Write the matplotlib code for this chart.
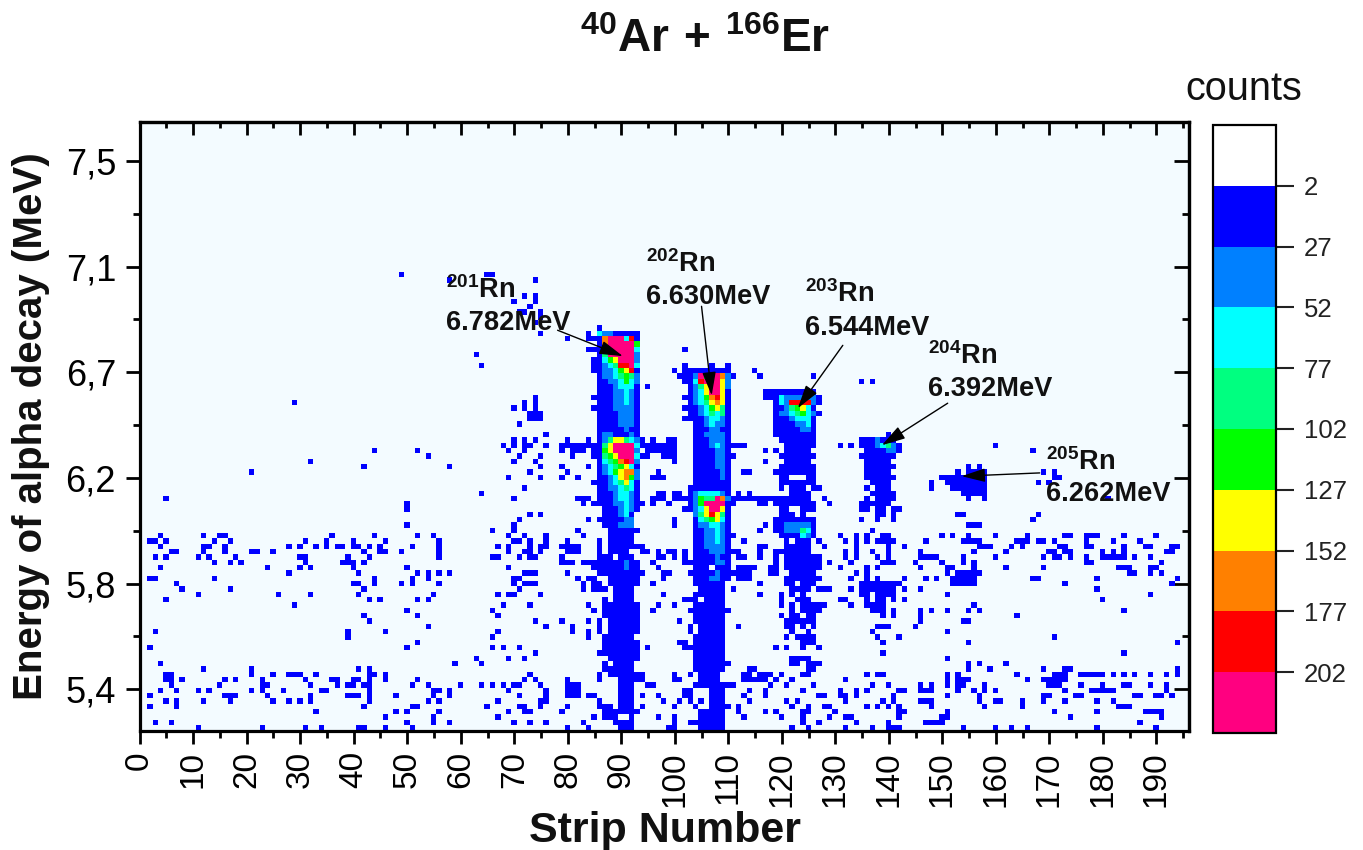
import numpy as np
import matplotlib
matplotlib.use('Agg')
import matplotlib.pyplot as plt
from matplotlib.colors import ListedColormap, BoundaryNorm
from matplotlib.cm import ScalarMappable
from matplotlib.ticker import FixedLocator, FixedFormatter, MultipleLocator

plt.rcParams['font.family'] = ['Liberation Sans', 'DejaVu Sans']
plt.rcParams['mathtext.fontset'] = 'custom'
plt.rcParams['mathtext.bf'] = 'Liberation Sans:bold'
plt.rcParams['mathtext.rm'] = 'Liberation Sans'

W, H = 1363, 850

# ---- data ----------------------------------------------------------------
level_edges = [2, 27, 52, 77, 102, 127, 152, 177, 202]
level_colors = ['#ffffff', '#0000ff', '#0080ff', '#00ffff', '#00ff80',
                '#00ff00', '#ffff00', '#ff8000', '#ff0000', '#ff0080']
band_counts = [0, 14, 40, 65, 90, 115, 140, 165, 190, 215]

strip_count = 197
energy_first = 5.237
energy_bin = 0.02118

# isolated low-count cells: (energy bin, [strips])
left_scatter = [
 (38,[49]),(36,[3,11,14,15,35,43,51,54]),(35,[1,2,4,13,16,30,34,39,45,55]),
 (34,[3,11,12,15,27,29,32,34,36,37,39,40,42,44,50,55]),(33,[5,6,11,15,20,21,24,41,44,45,48,55]),
 (32,[2,4,10,12,17,29,30,38,42,55]),(31,[13,16,18,30,37,38,39,41]),(30,[3,23,29,31,39,49]),
 (29,[27,40,51,53,55,57]),(28,[1,2,13,43,50,53]),(27,[6,39,40,43,48,50,55]),(26,[7,16,41]),
 (25,[10,25,31,40,54]),(24,[4,42,44,51,53]),(23,[28]),(22,[49]),(21,[41,51]),(20,[42]),
 (19,[53]),(18,[2,38,45]),(17,[38]),(16,[51]),(15,[1,49]),(13,[62]),(12,[3,58,63]),
 (11,[11,20,40,42]),(10,[4,5,20,24,27,28,29,32,42,43,45]),
 (9,[4,5,7,15,17,22,30,35,36,39,40,42,45,51]),(8,[5,14,22,23,31,36,38,39,41,42,50,53,59,63]),
 (7,[3,6,10,12,20,22,26,33,34,42,54,55,57]),(6,[1,15,16,17,23,31,38,39,40,42,47,54,57]),
 (5,[4,6,11,16,24,27,29,31,42,53,55]),(4,[1,6,41,50,51]),(3,[32,47,49,55]),(2,[45,54]),
 (1,[2,5,49,54,57]),(0,[10,22,30,33,40,41,45,50]),(-1,[6,7,24,37]),
]
middle_scatter = [
 (38,[69]),(39,[70]),(37,[65,81]),(36,[68,71,75,82]),(35,[69,70,72,75,79,85]),
 (34,[66,68,72,74,75,78,79,80,81,85]),(33,[68,71,72,74,79,80,81,85]),(32,[65,66,70,72,73,78,85]),
 (31,[78,79,80,82,83,84,85]),(30,[68]),(29,[71,72,73,79]),(28,[69,70,81,83,84]),
 (27,[69,71,72,73,82,84,85]),(26,[70,82,84,85,86]),(25,[66,68,69,74]),(23,[67,72,83]),
 (22,[65,84]),(21,[66]),(20,[73,78,83,85]),(19,[75,80,85]),(18,[66,80,83,85]),(17,[65,83]),
 (15,[65,67,70]),(14,[73,85]),(13,[68,71]),(12,[63]),(10,[72,85]),(9,[71,73,79,85]),
 (8,[63,65,67,69,70,74,79,80,81]),(7,[68,75,79,80,81]),(6,[70,75,79,80,81,83,84]),(5,[66,74,75,85]),
 (4,[64,70,71,74,79,85]),(3,[68,71,72,78]),(2,[66,84]),(1,[69,72,75,82]),(0,[79,83]),(-1,[66,68,70]),
]
between_scatter = [
 (38,[99]),(37,[92]),(34,[92,93]),(33,[93,94,96,98,99,101]),(32,[96,97,99,101]),(31,[95,101,102]),
 (30,[96]),(29,[93,97,98,102]),(28,[97]),(27,[95]),(25,[97]),(23,[92,96,99]),(22,[95,102]),
 (20,[100]),(19,[102]),(18,[102]),(16,[100,101]),(15,[94,101,102]),(10,[92,93,99,102]),
 (9,[93,99,100]),(8,[94,95]),(7,[101]),(6,[93,96,101,102]),(5,[97,100,102]),(4,[93,99]),
 (3,[92]),(2,[96,99]),(1,[99]),(0,[98,99]),
 (38,[116]),(37,[115]),(36,[110]),(35,[112]),(34,[115,116]),(33,[110,111,115,118]),
 (32,[111,112,115,118]),(31,[118]),(30,[111,112,113,114,117,118]),(29,[110,111,112,113]),
 (28,[111,112,113]),(27,[115]),(26,[110,126,127,128]),(25,[115]),(22,[109]),(19,[111]),(12,[109]),
 (11,[113,114]),(10,[112,113,115,116,117,119]),(9,[112,113,114,115,116,118]),(8,[117,120,125]),
 (7,[113,116,123]),(6,[112,116,126,127]),(5,[113,120,122]),(4,[109,111,121,124,128]),
 (3,[111,116,118,123,124,129]),(2,[112,119,123]),(1,[123,126]),(0,[121,124]),(-1,[117,118,120,121,125,128]),
]
right_scatter = [
 (38,[154,155,156]),(37,[136]),(36,[130,133,135,138,139,149,151,154,159,165,172,173,176,177,178,183,189]),
 (35,[126,131,133,135,137,138,139,140,146,153,154,155,156,163,164,165,167,168,170,176,181,186]),
 (34,[127,133,139,142,156,157,158,162,164,171,172,176,177,183,187,188,192,193]),
 (33,[131,133,136,139,145,155,161,169,170,172,173,179,181,183,191,192]),
 (32,[131,133,137,139,145,146,147,148,153,159,168,170,171,173,176,179,180,181,182,183,185,188]),
 (31,[128,132,138,139,140,144,149,153,155,176,177,190]),
 (30,[130,135,137,145,150,151,155,161,168,182,183,184,188,189]),
 (29,[133,135,150,152,153,154,155,156,184,185,188,190]),
 (28,[132,135,137,142,146,148,151,152,153,154,155,166,167,178,193]),
 (27,[134,135,136,137,138,139,140,141,151,152,153,154,155,172,192]),
 (26,[127,132,134,135,136,137,138,139,140,142,145,178]),
 (25,[134,135,137,138,139,140,150,188]),(24,[130,131,135,137,138,140,142,179]),
 (23,[127,132,135,136,137,138,155]),(22,[136,137,138,140,145,147,150,154,156,183]),
 (21,[138,140,145,163]),(20,[145,153,154]),(19,[137,138,139,144]),(18,[136,150]),
 (17,[137,141,170]),(16,[138,154,193]),(14,[138,183]),(13,[150]),(12,[154,156,161]),
 (11,[154,158,168,172,173,193]),
 (10,[135,137,138,150,152,163,170,171,172,175,176,177,178,179,181,183,185,188,191,193]),
 (9,[131,150,152,153,154,165,168,169,170,171,172]),
 (8,[136,139,145,147,150,152,153,157,169,170,171,175,179,183,184,188,191]),
 (7,[130,133,135,141,142,145,146,147,152,155,157,159,172,177,178,179,180,181,191]),
 (6,[126,127,130,131,133,140,150,156,168,169,174,175,185,186,189,190,192]),
 (5,[131,138,140,145,146,147,156,159,160,164,168,172,178,181]),
 (4,[127,135,137,139,141,147,157,164,182,183,184]),(3,[141,142,150,170,178,187,188,189,190]),
 (2,[128,131,132,141,149,150,173,190]),(1,[126,133,139,146,147,148,149,186]),
 (0,[131,136,139,140,141,153,159,162,165,178,189]),(-1,[126,127,141,154,170]),
]
upper_scatter = [
 (85,[48,64,65]),(84,[57,73]),(81,[71,73]),(80,[69,73]),(79,[72]),(78,[70,71,74]),(77,[74]),
 (76,[73]),(74,[74]),(73,[79]),(70,[62]),(68,[63]),(62,[73]),(61,[28,71,73]),(60,[69,71,73]),
 (59,[72,73,74]),(58,[72,73,74]),(57,[70]),(55,[75]),(54,[69,71,73,79]),
 (53,[67,69,71,72,75,78,79,80,81]),(52,[43,51,68,71,78,80,81]),(51,[53,70,74,80]),
 (50,[31,69,73]),(49,[41,57,74,78]),(48,[20,72,79]),(47,[68,74,78,81]),(45,[71]),
 (44,[63]),(43,[4,69,81]),(42,[49]),(41,[49]),(40,[72,74]),(39,[70]),(38,[69]),(37,[65,69]),
 (71,[101]),(67,[99,114]),(64,[94]),(73,[79]),(75,[85]),(74,[83]),(68,[101,106,109]),
 (66,[115,125,100]),(65,[134,136]),(53,[159,130,132]),(52,[166]),(48,[168,170]),(47,[170,171]),
 (46,[167,169,147]),(43,[180]),(40,[167,152]),(39,[166]),
]
# horizontal tails of the peaks at about 6.3 and 6.1 MeV: (bin, first, last)
cross_runs = [
 (53,78,85),(53,93,99),(54,93,93),(54,95,95),(54,98,99),(54,79,79),(54,83,83),
 (52,78,78),(52,80,82),(52,84,85),(52,94,98),(52,99,99),(51,80,80),(51,84,84),(51,93,94),
 (51,97,98),(51,99,99),(50,99,99),(49,78,78),(49,83,83),(48,79,79),(47,78,78),(47,81,81),
 (46,84,84),(53,109,112),(51,110,110),(48,112,113),(48,96,96),(47,95,97),
 (44,96,97),(44,99,100),(44,111,111),(44,113,113),(43,81,83),(43,85,85),(43,95,97),(43,99,101),
 (43,109,115),(42,82,82),(42,84,85),(42,92,93),(42,95,95),(42,98,98),(42,110,110),(41,101,101),
 (39,83,83),(39,85,85),(39,99,99),(37,81,81),(37,115,115),(36,82,82),
]
# blue body of the strip columns: (bin, first, last)
column_90_runs = [
 (75,85,85),(74,83,83),(73,83,84),(71,83,84),(69,84,84),(68,84,84),(67,84,84),(62,84,84),(60,84,84),
 (52,84,85),(37,87,92),(36,87,91),(35,87,91),(34,87,93),(33,87,90),(33,93,94),(32,86,87),(32,89,91),
 (31,86,92),(30,84,92),(29,85,93),(28,84,84),(28,87,92),(27,87,92),(26,88,91),(25,88,91),(24,86,86),
 (24,88,91),(23,86,92),(22,86,92),(21,86,92),(20,85,85),(20,87,92),(19,87,92),(18,87,92),(17,86,91),
 (16,86,92),(15,86,92),(14,86,92),(13,87,92),(12,86,86),(12,88,91),(11,86,91),(10,87,91),(9,89,93),
 (8,89,91),(7,89,91),(6,89,91),(5,89,91),(4,85,87),(4,89,91),(3,86,89),(3,90,91),(2,86,88),(2,91,91),
 (1,88,88),(1,89,91),(0,89,91),
]
column_106_runs = [
 (27,103,108),(26,104,108),(25,103,108),(24,101,103),(24,105,108),(23,103,108),(22,102,109),
 (21,103,108),(20,103,108),(19,102,102),(19,104,108),(18,102,102),(18,104,108),(17,103,108),
 (16,103,108),(15,103,108),(14,103,108),(13,103,108),(12,103,109),(11,103,108),(10,104,107),
 (9,104,107),(8,103,110),(7,102,102),(7,106,108),(6,101,102),(6,106,108),(5,102,102),(5,104,104),
 (5,106,108),(4,103,103),(4,106,108),(3,104,108),(2,104,108),(1,102,108),(0,104,108),(-1,105,107),
]
column_122_runs = [
 (52,116,116),(52,118,118),(52,120,124),(51,119,125),(50,116,116),(50,120,124),(49,119,125),
 (48,118,125),(47,119,120),(47,124,125),(46,119,125),(45,119,119),(45,121,123),(45,125,126),
 (44,121,124),(43,115,124),(43,127,127),(42,115,116),(42,118,125),(42,128,128),(41,119,120),
 (41,123,125),(40,119,121),(40,123,123),(39,118,125),(35,120,120),(35,122,124),(34,120,124),
 (33,118,124),(32,120,126),(31,120,126),(30,117,118),(30,120,126),(29,117,118),(29,121,125),
 (28,120,126),(27,120,121),(27,123,125),(26,121,124),(25,119,119),(25,121,121),(25,123,123),
 (24,119,119),(24,122,124),(23,119,119),(23,121,121),(23,123,126),(22,121,121),(22,123,126),
 (21,119,119),(21,121,122),(21,124,125),(20,120,125),(19,120,121),(19,123,123),(19,125,125),
 (18,121,121),(18,124,124),(17,120,120),(17,122,125),(16,123,125),(15,118,118),(15,120,120),
 (15,123,123),(15,126,126),(13,121,124),(12,121,122),(12,124,126),(11,124,125),(10,123,124),(9,121,121),
]
column_138_runs = [
 (55,139,139),(54,134,140),(53,134,136),(52,135,141),(51,134,140),(50,135,139),(49,135,140),
 (48,135,139),(47,135,140),(46,136,139),(45,135,135),(45,137,139),(44,136,140),(43,135,135),
 (43,137,140),(42,134,136),(42,137,139),(41,134,135),(41,137,138),(41,140,141),(40,137,138),
 (40,140,140),(39,134,134),(39,137,137),(39,140,140),
]
column_155_runs = [
 (49,154,154),(49,156,156),(48,152,152),(48,154,157),(47,149,157),(46,150,157),(45,147,147),
 (45,151,157),(44,153,157),(43,154,154),(43,157,157),(40,153,153),
]
# colour bands of the peak regions, one digit per strip: (bin, digits)
peak_90_first = 85
peak_90_bands = [
 (74,'32211111'),(73,'17999381'),(72,'17999995'),(71,'15999993'),(70,'14999992'),(69,'13569992'),
 (68,'12348893'),(67,'12235681'),(66,'12234542'),(65,'11223532'),(64,'11123331'),(63,'11122321'),
 (62,'11122321'),(61,'11122321'),(60,'11122221'),(59,'11112221'),(58,'11112221'),(57,'11112221'),
 (56,'11111211'),(55,'12211121'),(54,'12466432'),(53,'14699993'),(52,'15699992'),(51,'14569993'),
 (50,'13457892'),(49,'12345631'),(48,'12356772'),(47,'11236752'),(46,'11234631'),(45,'11223431'),
 (44,'11123321'),(43,'11123321'),(42,'11122321'),(41,'01112321'),(40,'01112310'),(39,'01111220'),
 (38,'01112220'),(31,'00000200'),(30,'00000200'),
]
peak_106_first = 101
peak_106_bands = [
 (67,'111111111'),(66,'1129599721'),(65,'1138999620'),(64,'0124699620'),(63,'0123699610'),
 (62,'1123578610'),(61,'0123467610'),(60,'1112356410'),(59,'0112343410'),(58,'1111233210'),
 (57,'0011232210'),(56,'0011122110'),(55,'0011222210'),(54,'0011122210'),(53,'0011123210'),
 (52,'0011112210'),(51,'0011112210'),(50,'0011112210'),(49,'0011112210'),(48,'0011111210'),
 (47,'0011111210'),(46,'0011111110'),(45,'0111111110'),(44,'0123333210'),(43,'0125449721'),
 (42,'0125999910'),(41,'0123699610'),(40,'0024686410'),(39,'0013456310'),(38,'0012233210'),
 (37,'0011223210'),(36,'0011223210'),(35,'0011223210'),(34,'0011222210'),(33,'0011122210'),
 (32,'0011112110'),(31,'0011112210'),(30,'0011101110'),(29,'0011112110'),(28,'0011122110'),
]
peak_122_first = 116
peak_122_bands = [
 (63,'11111111110'),(62,'11132222221'),(61,'00132888821'),(60,'00112456310'),(59,'00122345321'),
 (58,'00111233310'),(57,'00111122310'),(56,'00111112210'),(55,'00111111110'),(54,'00011111110'),
 (53,'00001111110'),(38,'00112222210'),(37,'00112224310'),(36,'00011113210'),
]
peak_138_first = 137
peak_138_bands = [(54,'2'),(53,'23421'),(52,'1122')]

x_tick_labels = [str(v) for v in range(0, 200, 10)]
y_tick_values = [5.40, 5.82, 6.24, 6.66, 7.08, 7.50]
y_minor_values = [5.61, 6.03, 6.45, 6.87, 7.29]
y_tick_labels = ['5,4', '5,8', '6,2', '6,7', '7,1', '7,5']
bar_tick_labels = [str(v) for v in level_edges]

isotopes = ['201', '202', '203', '204', '205']
alpha_energies = ['6.782MeV', '6.630MeV', '6.544MeV', '6.392MeV', '6.262MeV']
arrow_tips = [(90.3, 6.724), (106.9, 6.568), (123.0, 6.517), (138.7, 6.370), (153.6, 6.247)]
arrow_tails = [(78.1, 6.827), (105.0, 6.922), (131.4, 6.767), (151.0, 6.537), (168.2, 6.260)]

# ---- build the counts grid ------------------------------------------------
row_offset = 1
counts = np.zeros((125, strip_count))
for group in (left_scatter, middle_scatter, between_scatter, right_scatter, upper_scatter):
    for r, strips in group:
        for s in strips:
            counts[r + row_offset, s] = band_counts[1]
for group in (cross_runs, column_90_runs, column_106_runs, column_122_runs,
              column_138_runs, column_155_runs):
    for r, a, b in group:
        counts[r + row_offset, a:b + 1] = band_counts[1]
for first, bands in ((peak_90_first, peak_90_bands), (peak_106_first, peak_106_bands),
                     (peak_122_first, peak_122_bands), (peak_138_first, peak_138_bands)):
    for r, digits in bands:
        for i, d in enumerate(digits):
            if d != '0':
                counts[r + row_offset, first + i] = band_counts[int(d)]

x_edges = np.arange(strip_count + 1) + 0.43
y_edges = energy_first + energy_bin * (np.arange(counts.shape[0] + 1) - row_offset)

# ---- figure ---------------------------------------------------------------
def box(l, t, r, b):
    return [l / W, 1 - b / H, (r - l) / W, (b - t) / H]

fig = plt.figure(figsize=(W / 100, H / 100), dpi=100, facecolor='white')
ax = fig.add_axes(box(139.7, 122, 1189, 731))
ax.set_facecolor('#f3fbff')

cmap = ListedColormap(level_colors[1:])
norm = BoundaryNorm(level_edges + [227], cmap.N)
ax.pcolormesh(x_edges, y_edges, np.ma.masked_equal(counts, 0), cmap=cmap, norm=norm,
              antialiased=False, linewidth=0, rasterized=True)
ax.set_xlim(0, 196.1)
ax.set_ylim(5.2344, 7.6545)

for sp in ax.spines.values():
    sp.set_linewidth(2.3)

ax.set_xticks(range(0, 200, 10))
ax.set_xticklabels(x_tick_labels, rotation=90)
ax.xaxis.set_minor_locator(MultipleLocator(5))
ax.yaxis.set_major_locator(FixedLocator(y_tick_values))
ax.yaxis.set_major_formatter(FixedFormatter(y_tick_labels))
ax.yaxis.set_minor_locator(FixedLocator(y_minor_values))
ax.tick_params(axis='x', which='major', direction='out', length=9.5, width=2, labelsize=24, pad=5)
ax.tick_params(axis='x', which='minor', direction='out', length=5, width=2)
ax.tick_params(axis='y', which='major', direction='out', length=10, width=2, labelsize=26, pad=7)
ax.tick_params(axis='y', which='minor', direction='out', length=5, width=2)

top = ax.secondary_xaxis('top')
top.set_xticks(range(0, 200, 10))
top.xaxis.set_minor_locator(MultipleLocator(5))
top.tick_params(axis='x', which='major', direction='in', length=9.5, width=2, labeltop=False)
top.tick_params(axis='x', which='minor', direction='in', length=4.5, width=2)
top.spines['top'].set_linewidth(2.3)
right = ax.secondary_yaxis('right')
right.set_yticks(y_tick_values)
right.yaxis.set_minor_locator(FixedLocator(y_minor_values))
right.tick_params(axis='y', which='major', direction='in', length=10.5, width=2, labelright=False)
right.tick_params(axis='y', which='minor', direction='in', length=5, width=2)
right.spines['right'].set_linewidth(2.3)

# arrows to the peaks
for tip, tail in zip(arrow_tips, arrow_tails):
    ax.annotate('', xy=tip, xytext=tail,
                arrowprops=dict(arrowstyle='-|>,head_length=1.45,head_width=0.42', color='black',
                                lw=1.0, shrinkA=0, shrinkB=0, mutation_scale=10))

# labels of the isotopes
label_px = [(446, 298, 330), (646, 272, 304), (805, 302, 335), (928, 364, 396), (1046, 470, 501)]
for iso, en, (x, y1, y2) in zip(isotopes, alpha_energies, label_px):
    fig.text(x / W, 1 - y1 / H, r'$\mathbf{^{%s}Rn}$' % iso, fontsize=19.5, color='#111111',
             ha='left', va='baseline')
    fig.text(x / W, 1 - y2 / H, en, fontsize=19.6, fontweight='bold', color='#111111',
             ha='left', va='baseline')

# titles
fig.text(705 / W, 1 - 52 / H, r'$\mathbf{^{40}Ar\ {+}\ ^{166}Er}$', fontsize=33, ha='center',
         va='baseline', color='#111111')
fig.text(665 / W, 1 - 842 / H, 'Strip Number', fontsize=31, fontweight='bold', ha='center',
         va='baseline', color='#111111')
fig.text(31 / W, 1 - 426 / H, 'Energy of alpha decay (MeV)', fontsize=29, fontweight='bold',
         rotation=90, ha='center', va='center', color='#111111')
fig.text(1244 / W, 1 - 100 / H, 'counts', fontsize=28.5, ha='center', va='baseline', color='#111111')

# colour bar (white band on top, highest counts at the bottom)
cax = fig.add_axes(box(1212.5, 125, 1276, 733))
bar_cmap = ListedColormap(level_colors)
bar_norm = BoundaryNorm([-23] + level_edges + [227], bar_cmap.N)
cb = fig.colorbar(ScalarMappable(norm=bar_norm, cmap=bar_cmap), cax=cax, spacing='uniform',
                  ticks=level_edges, drawedges=False)
cb.ax.set_yticklabels(bar_tick_labels)
cb.ax.minorticks_off()
cb.ax.invert_yaxis()
cb.ax.tick_params(axis='y', length=13, width=1.5, labelsize=18.5, pad=7, colors='#222222')
cb.outline.set_linewidth(1.6)

fig.savefig('out.png', dpi=100)
